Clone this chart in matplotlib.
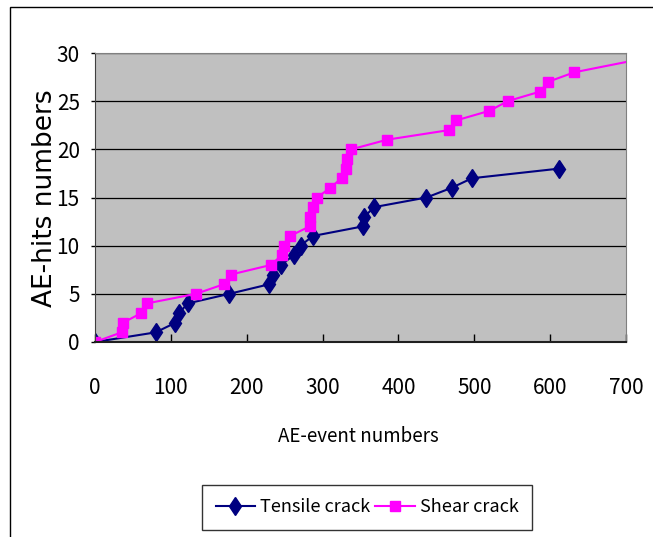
import matplotlib.pyplot as plt
from matplotlib.patches import Rectangle

plt.rcParams['font.family'] = ['Noto Sans CJK JP', 'DejaVu Sans']

# cumulative AE-hits against AE-event count
tensile_events = [0, 80, 106, 111, 122, 177, 230, 234, 245, 262, 271, 287,
                  353, 355, 368, 437, 470, 497, 612]
tensile_hits = list(range(19))

shear_events = [0, 35, 37, 61, 68, 133, 170, 179, 232, 246, 249, 257, 283, 283,
                288, 293, 310, 325, 331, 332, 338, 385, 467, 476, 520, 544,
                587, 597, 632, 760]
shear_hits = list(range(29)) + [30]

x_ticks = [0, 100, 200, 300, 400, 500, 600, 700]
y_ticks = [0, 5, 10, 15, 20, 25, 30]

fig = plt.figure(figsize=(6.53, 5.37), dpi=100)
W, H = 653, 537

# chart-area frame (runs off the right and bottom edges)
fig.patches.append(Rectangle((10 / W, -0.1), 1.1, 1 - 7 / H + 0.1,
                             transform=fig.transFigure, fill=False,
                             edgecolor='black', linewidth=1.0))

ax = fig.add_axes([95 / W, 1 - 342 / H, 531 / W, 289 / H])
ax.set_facecolor('#C0C0C0')

ax.plot(tensile_events, tensile_hits, color='#000080', marker='d',
        markersize=9.5, linewidth=1.5, label='Tensile crack')
ax.plot(shear_events, shear_hits, color='#FF00FF', marker='s',
        markersize=6.5, linewidth=1.5, label='Shear crack')

ax.set_xlim(0, 700)
ax.set_ylim(0, 30)
ax.set_xticks(x_ticks)
ax.set_yticks(y_ticks)
ax.tick_params(axis='x', direction='in', length=6, width=1, pad=25, labelsize=15)
ax.tick_params(axis='y', direction='out', length=3, width=1, pad=8, labelsize=15)
ax.yaxis.grid(True, color='black', linewidth=0.9)
ax.set_axisbelow(True)

for side in ['top', 'right']:
    ax.spines[side].set_color('#808080')
ax.spines['left'].set_color('#404040')
ax.spines['bottom'].set_color('#202020')
ax.spines['bottom'].set_linewidth(1.5)

fig.text(358 / W, 1 - 437 / H, 'AE-event numbers', fontsize=13.5,
         ha='center', va='center')
fig.text(45 / W, 1 - 198 / H, 'AE-hits numbers', fontsize=19,
         family='DejaVu Sans', rotation=90, ha='center', va='center')

leg = fig.legend(loc='lower left', bbox_to_anchor=(202 / W, 7 / H),
                 ncol=2, fontsize=13, frameon=True, fancybox=False,
                 edgecolor='black', handlelength=2.2, handletextpad=0.25,
                 columnspacing=0.3, borderpad=0.75, borderaxespad=0)
leg.get_frame().set_linewidth(1.0)

fig.savefig('out.png', dpi=100)
